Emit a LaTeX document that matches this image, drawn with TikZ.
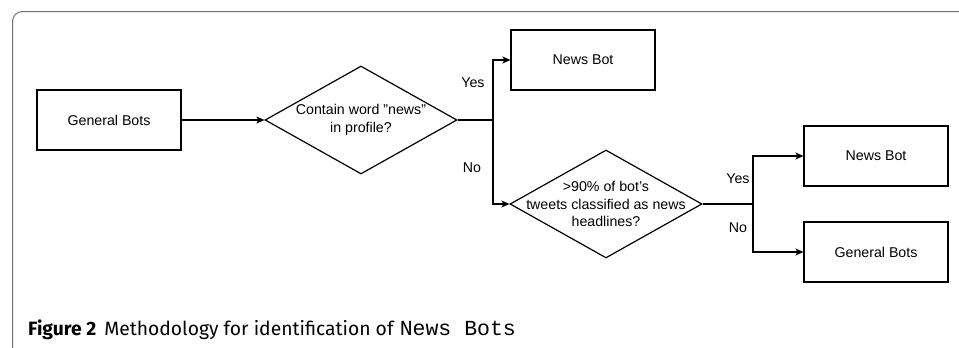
\documentclass[tikz,border=0pt]{standalone}
\usepackage{fontspec}
\setmainfont{Liberation Sans}
\setmonofont{Liberation Mono}
\newfontfamily\capfont{Fira Sans}
\usepackage{tikz}
\usetikzlibrary{arrows.meta,shapes.geometric}
\tikzstyle{bot}=[rectangle,draw,line width=1.2pt,minimum width=144pt,minimum height=60pt,font=\fontsize{14.2}{17}\selectfont]
\tikzstyle{test}=[diamond,draw,line width=1.2pt,minimum width=192pt,minimum height=108pt,inner sep=0pt]
\tikzstyle{ask}=[align=center,font=\fontsize{14.2}{17.5}\selectfont]
\tikzstyle{answer}=[font=\fontsize{14.2}{17}\selectfont]
\tikzstyle{flow}=[line width=1.2pt]

\begin{document}
\begin{tikzpicture}[x=1pt,y=-1pt,>={Stealth[length=8pt,width=7pt,inset=2pt]}]
  \useasboundingbox (0,0) rectangle (959,348);
  \draw[black!55,line width=1pt,rounded corners=10pt] (12.5,348) -- (12.5,11.5) -- (959,11.5);
  \node at (109,120) [bot] (GeneralBots) {General Bots};
  \node at (361,120) [test,label={[ask]center:{Contain word "news"\\in profile?}}] (Contain) {};
  \node at (583,60) [bot] (NewsBotA) {News Bot};
  \node at (606,204) [test,label={[ask]center:{>90\% of bot's\\tweets classified as news\\headlines?}}] (Share) {};
  \node at (876,156) [bot] (NewsBotB) {News Bot};
  \node at (876,252) [bot] (GeneralBotsB) {General Bots};
  \coordinate (JoinA) at (493,120);
  \coordinate (JoinB) at (753,204);
  \node at (473,83) [answer] (YesA) {Yes};
  \node at (472,168) [answer] (NoA) {No};
  \node at (738,179) [answer] (YesB) {Yes};
  \node at (738,228) [answer] (NoB) {No};
  \draw [flow,->] (GeneralBots) to (Contain);
  \draw [flow] (Contain.east) to (JoinA);
  \draw [flow,->] (JoinA) |- (NewsBotA);
  \draw [flow,->] (JoinA) |- (Share.west);
  \draw [flow] (Share.east) to (JoinB);
  \draw [flow,->] (JoinB) |- (NewsBotB);
  \draw [flow,->] (JoinB) |- (GeneralBotsB);
  \node at (28,335) [anchor=base west,inner sep=0pt,font=\capfont\fontsize{19.3}{22}\selectfont] (Caption)
    {\textbf{Figure 2}\hspace{8pt}Methodology for identification of \texttt{\fontsize{21.5}{22}\selectfont News Bots}};
\end{tikzpicture}
\end{document}
